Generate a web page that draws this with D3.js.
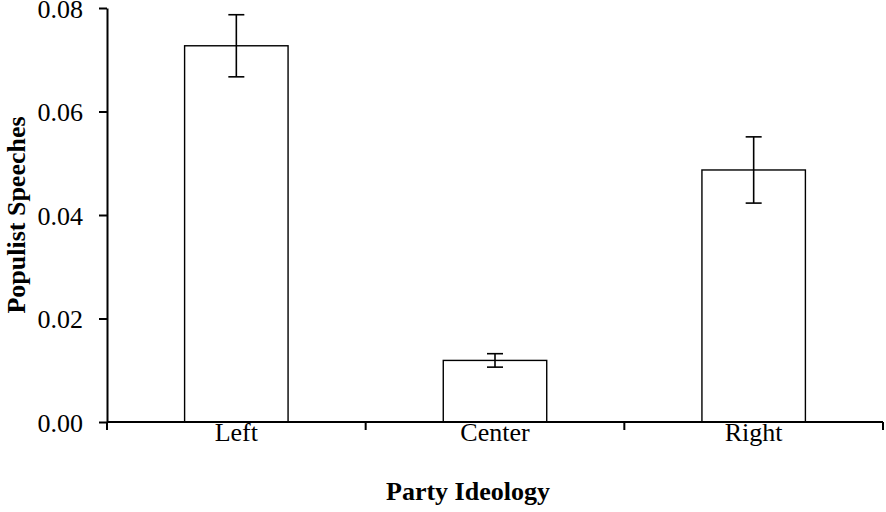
<!DOCTYPE html>
<html lang="en">
<head>
<meta charset="utf-8">
<title>Populist speeches by party ideology</title>
<script src="https://cdn.jsdelivr.net/npm/d3@7/dist/d3.min.js"></script>
<style>
body { margin: 0; background: #fff; }
svg text { font-family: "Liberation Serif", "Times New Roman", serif; fill: #000; }
</style>
</head>
<body>
<div id="vis"></div>
<script>

/* Data */
var categories = ['Left', 'Center', 'Right'];
var values = [0.0727, 0.0119, 0.0487];
var errors = [0.0060, 0.0013, 0.0064];
var yTicks = [0, 0.02, 0.04, 0.06, 0.08];

var width = 886, height = 512;
var margin = { top: 8, right: 3, bottom: 90, left: 107 };
var fs = 26;

var svg = d3.select('#vis').append('svg')
	.attr('width', width)
	.attr('height', height);

var x = d3.scaleBand()
	.domain(categories)
	.range([margin.left, width - margin.right])
	.paddingInner(0.6)
	.paddingOuter(0.3);

var y = d3.scaleLinear()
	.domain([0, 0.08])
	.range([height - margin.bottom, margin.top]);

var step = x.step();
var y0 = y(0);

// bars
svg.selectAll('rect.bar')
	.data(categories)
	.enter().append('rect')
		.attr('class', 'bar')
		.attr('x', function(d) { return x(d); })
		.attr('y', function(d, i) { return y(values[i]); })
		.attr('width', x.bandwidth())
		.attr('height', function(d, i) { return y0 - y(values[i]); })
		.attr('fill', '#fff')
		.attr('stroke', '#000')
		.attr('stroke-width', 1.4);

// error bars
var eb = svg.selectAll('g.err')
	.data(categories)
	.enter().append('g')
		.attr('class', 'err')
		.attr('stroke', '#000')
		.attr('stroke-width', 1.6);

eb.append('line')
	.attr('x1', function(d) { return x(d) + x.bandwidth() / 2; })
	.attr('x2', function(d) { return x(d) + x.bandwidth() / 2; })
	.attr('y1', function(d, i) { return y(values[i] + errors[i]); })
	.attr('y2', function(d, i) { return y(values[i] - errors[i]); });

[1, -1].forEach(function(s) {
	eb.append('line')
		.attr('x1', function(d) { return x(d) + x.bandwidth() / 2 - 8; })
		.attr('x2', function(d) { return x(d) + x.bandwidth() / 2 + 8; })
		.attr('y1', function(d, i) { return y(values[i] + s * errors[i]); })
		.attr('y2', function(d, i) { return y(values[i] + s * errors[i]); });
});

// y axis
var yAxis = svg.append('g')
	.attr('transform', 'translate(' + margin.left + ',0)')
	.call(d3.axisLeft(y).tickValues(yTicks).tickFormat(d3.format('.2f'))
		.tickSize(8).tickSizeOuter(0).tickPadding(16));
yAxis.select('.domain').attr('stroke-width', 2);
yAxis.selectAll('.tick line').attr('stroke-width', 2);
yAxis.selectAll('.tick text').attr('font-size', fs).attr('dy', '0.36em');

// x axis: ticks at category boundaries
var xEdges = categories.map(function(d) { return x(d) - step * 0.3; }).concat([width - margin.right]);
var xAxisG = svg.append('g');
xAxisG.append('line')
	.attr('x1', margin.left).attr('x2', width - margin.right)
	.attr('y1', y0).attr('y2', y0)
	.attr('stroke', '#000').attr('stroke-width', 2);
xAxisG.selectAll('line.tk')
	.data(xEdges)
	.enter().append('line')
		.attr('class', 'tk')
		.attr('x1', function(d) { return d; }).attr('x2', function(d) { return d; })
		.attr('y1', y0).attr('y2', y0 + 8)
		.attr('stroke', '#000').attr('stroke-width', 2);
xAxisG.selectAll('text')
	.data(categories)
	.enter().append('text')
		.attr('x', function(d) { return x(d) + x.bandwidth() / 2; })
		.attr('y', 441)
		.attr('text-anchor', 'middle')
		.attr('font-size', fs)
		.text(function(d) { return d; });

// axis titles
svg.append('text')
	.attr('x', 468)
	.attr('y', 500)
	.attr('text-anchor', 'middle')
	.attr('font-size', fs)
	.attr('font-weight', 'bold')
	.text('Party Ideology');

svg.append('text')
	.attr('transform', 'translate(25,' + y(0.04) + ') rotate(-90)')
	.attr('text-anchor', 'middle')
	.attr('font-size', fs)
	.attr('font-weight', 'bold')
	.text('Populist Speeches');

</script>
</body>
</html>
